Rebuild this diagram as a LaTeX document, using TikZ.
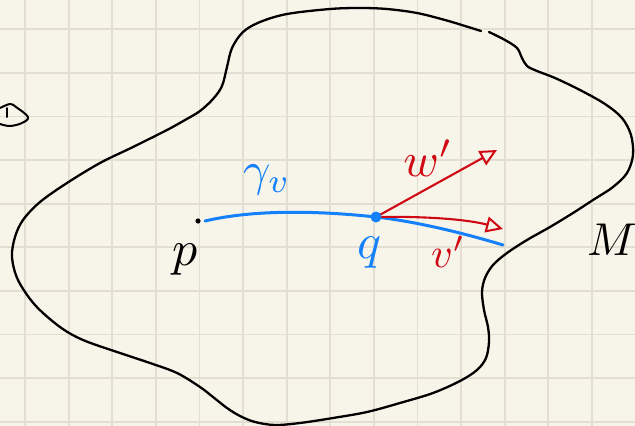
\documentclass[tikz,border=0pt]{standalone}
\usetikzlibrary{arrows.meta}
\definecolor{paper}{RGB}{247,245,234}
\definecolor{gridc}{RGB}{226,223,210}
\definecolor{inkblue}{RGB}{20,128,250}
\definecolor{inkred}{RGB}{208,8,20}
\tikzset{
  outline/.style={line width=2.3pt, line cap=round, line join=round, black},
  geod/.style={line width=3pt, line cap=round, inkblue},
  vec/.style={line width=2.1pt, line cap=round, inkred,
    -{Triangle[open, length=17pt, width=16pt, line width=2pt]}},
  lab/.style={inner sep=0pt},
}
\begin{document}
\begin{tikzpicture}[x=1pt,y=-1pt]
\fill[paper] (0,0) rectangle (635,426);
\useasboundingbox (0,0) rectangle (635,426);
% grid
\foreach \i in {0,...,14} {
  \draw[gridc, line width=1.8pt] ({25+43.6*\i},0) -- ({25+43.6*\i},426);
}
\foreach \j in {0,...,9} {
  \draw[gridc, line width=1.8pt] (0,{29.3+43.6*\j}) -- (635,{29.3+43.6*\j});
}
% leftover mark at left edge
\draw[outline, line width=2pt] plot[smooth, tension=0.6] coordinates {(0,108) (10,104) (16,107) (28,117) (22,123) (10,126) (0,124)};
\draw[outline, line width=2pt] (7,108) -- (7,117);
% manifold outline (open at the top right)
\draw[outline] plot[smooth, tension=0.55] coordinates {
(489,32) (505,40) (517,48) (522,58) (527,66) (537,71) (555,78) (580,90)
(605,104) (622,118) (631,135) (633,155) (627,173) (613,187) (593,200)
(573,213) (550,227) (527,240) (507,253) (493,265) (485,278) (482,292)
(484,310) (488,327) (489,342) (486,358) (477,370) (460,381) (433,393)
(400,403) (367,412) (333,418) (300,423) (275,425) (255,422) (240,416)
(227,408) (213,397) (200,387) (177,373) (150,363) (117,352) (83,340)
(60,327) (35,305) (18,280) (12,257) (15,237) (23,220) (40,202) (67,183)
(100,163) (133,147) (167,130) (185,120) (200,111) (213,99) (222,86)
(227,67) (232,48) (243,32) (260,22) (287,14) (330,9) (360,8) (387,9)
(417,13) (445,20) (465,26) (481,31)};
% points
\coordinate (p) at (198,221);
\coordinate (q) at (376,217);
\coordinate (gend) at (503,245);
\coordinate (wtip) at (497,150);
\coordinate (vtip) at (503,229);
% geodesic
\draw[geod] (205,221) .. controls (260,208) and (330,212) .. (q)
            .. controls (420,222) and (470,235) .. (gend);
% vectors
\draw[vec] (q) -- (wtip);
\draw[vec] (q) .. controls (430,216) and (470,220) .. (vtip);
\fill[black] (p) circle (2.6pt);
\fill[inkblue] (q) circle (5.5pt);
% labels
\node[lab, inkblue, scale=4.8] (lgamma) at (267,180) {$\gamma_v$};
\node[lab, inkblue, scale=5] (lq) at (370,253) {$q$};
\node[lab, black, scale=5] (lp) at (185,260) {$p$};
\node[lab, black, scale=4.6] (lM) at (612,240) {$M$};
\node[lab, inkred, scale=4.8] (lw) at (428,158) {$w'$};
\node[lab, inkred, scale=4.2] (lv) at (448,252) {$v'$};
\end{tikzpicture}
\end{document}
